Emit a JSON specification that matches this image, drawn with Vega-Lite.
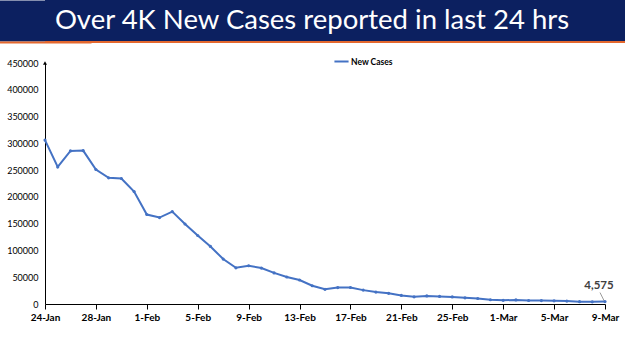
{
  "$schema": "https://vega.github.io/schema/vega-lite/v6.json",
  "padding": 0,
  "autosize": {"type": "pad"},
  "background": "white",
  "config": {"font": "Lato"},
  "spacing": 0,
  "resolve": {"legend": {"color": "independent"}, "scale": {"color": "independent"}},
  "vconcat": [
    {
      "width": 584,
      "height": 41,
      "view": {"fill": "#0c2060", "stroke": null},
      "data": {"values": [{"title": "Over 4K New Cases reported in last 24 hrs"}]},
      "mark": {"type": "text", "color": "white", "fontSize": 27.5, "font": "Lato", "baseline": "middle", "align": "center", "dx": -25},
      "encoding": {
        "text": {"field": "title"},
        "y": {
          "datum": 0.5,
          "type": "quantitative",
          "scale": {"domain": [0, 1]},
          "axis": {"domainWidth": 92, "domainColor": "#0c2060", "domainCap": "butt", "labels": false, "ticks": false, "grid": false, "title": null}
        }
      }
    },
    {
      "width": 584,
      "height": 2,
      "view": {"fill": "#e4682e", "stroke": null},
      "data": {"values": [{"t": "band"}]},
      "mark": {"type": "rule", "color": "#e4682e", "strokeWidth": 2},
      "encoding": {
        "y": {
          "datum": 0.5,
          "type": "quantitative",
          "scale": {"domain": [0, 1]},
          "axis": {"domainWidth": 92, "domainColor": "#e4682e", "domainCap": "butt", "labels": false, "ticks": false, "grid": false, "title": null}
        }
      }
    },
    {
      "width": 560,
      "height": 241,
      "view": {"stroke": null},
      "data": {"values": [
        {"date": "2022-01-24", "cases": 306064},
        {"date": "2022-01-25", "cases": 255874},
        {"date": "2022-01-26", "cases": 285914},
        {"date": "2022-01-27", "cases": 286384},
        {"date": "2022-01-28", "cases": 251209},
        {"date": "2022-01-29", "cases": 235532},
        {"date": "2022-01-30", "cases": 234281},
        {"date": "2022-01-31", "cases": 209918},
        {"date": "2022-02-01", "cases": 167059},
        {"date": "2022-02-02", "cases": 161386},
        {"date": "2022-02-03", "cases": 172433},
        {"date": "2022-02-04", "cases": 149394},
        {"date": "2022-02-05", "cases": 127952},
        {"date": "2022-02-06", "cases": 107474},
        {"date": "2022-02-07", "cases": 83876},
        {"date": "2022-02-08", "cases": 67597},
        {"date": "2022-02-09", "cases": 71365},
        {"date": "2022-02-10", "cases": 67084},
        {"date": "2022-02-11", "cases": 58077},
        {"date": "2022-02-12", "cases": 50407},
        {"date": "2022-02-13", "cases": 44877},
        {"date": "2022-02-14", "cases": 34113},
        {"date": "2022-02-15", "cases": 27409},
        {"date": "2022-02-16", "cases": 30615},
        {"date": "2022-02-17", "cases": 30757},
        {"date": "2022-02-18", "cases": 25920},
        {"date": "2022-02-19", "cases": 22270},
        {"date": "2022-02-20", "cases": 19968},
        {"date": "2022-02-21", "cases": 16051},
        {"date": "2022-02-22", "cases": 13405},
        {"date": "2022-02-23", "cases": 15102},
        {"date": "2022-02-24", "cases": 14148},
        {"date": "2022-02-25", "cases": 13166},
        {"date": "2022-02-26", "cases": 11499},
        {"date": "2022-02-27", "cases": 10273},
        {"date": "2022-02-28", "cases": 8013},
        {"date": "2022-03-01", "cases": 6915},
        {"date": "2022-03-02", "cases": 7554},
        {"date": "2022-03-03", "cases": 6561},
        {"date": "2022-03-04", "cases": 6396},
        {"date": "2022-03-05", "cases": 5921},
        {"date": "2022-03-06", "cases": 5476},
        {"date": "2022-03-07", "cases": 4362},
        {"date": "2022-03-08", "cases": 3993},
        {"date": "2022-03-09", "cases": 4575}
      ]},
      "encoding": {
        "x": {
          "field": "date",
          "type": "temporal",
          "scale": {"type": "utc", "domain": [1642982400000, 1646784000000]},
          "axis": {
            "values": [1642982400000, 1643328000000, 1643673600000, 1644019200000, 1644364800000, 1644710400000, 1645056000000, 1645401600000, 1645747200000, 1646092800000, 1646438400000, 1646784000000],
            "labelExpr": "utcFormat(datum.value, '%-d-%b')",
            "labelFontSize": 10,
            "labelFontWeight": "bold",
            "labelColor": "#000",
            "tickColor": "#000",
            "domainColor": "#000",
            "tickSize": 5,
            "labelPadding": 3,
            "grid": false,
            "title": null,
            "labelFlush": false,
            "labelOverlap": false
          }
        },
        "y": {
          "field": "cases",
          "type": "quantitative",
          "scale": {"domain": [0, 450000], "nice": false},
          "axis": {
            "values": [0, 50000, 100000, 150000, 200000, 250000, 300000, 350000, 400000, 450000],
            "format": "d",
            "labelFontSize": 9,
            "labelColor": "#000",
            "ticks": false,
            "domainColor": "#000",
            "grid": false,
            "title": null,
            "minExtent": 45,
            "labelPadding": 7
          }
        }
      },
      "layer": [
        {
          "mark": {"type": "line", "strokeWidth": 2},
          "encoding": {
            "color": {
              "datum": "New Cases",
              "scale": {"range": ["#4472c4"]},
              "legend": {
                "orient": "none",
                "legendX": 278,
                "legendY": -20,
                "title": null,
                "padding": 10,
                "symbolType": "stroke",
                "symbolSize": 200,
                "symbolStrokeWidth": 2,
                "labelFontSize": 8.5,
                "labelFontWeight": "bold",
                "labelColor": "#000",
                "labelOffset": 1
              }
            }
          }
        },
        {
          "mark": {"type": "point", "filled": true, "size": 10, "color": "#4472c4", "opacity": 1}
        },
        {
          "transform": [{"filter": "datum.cases == 4575"}],
          "mark": {"type": "rule", "color": "#808080", "strokeWidth": 0.8, "xOffset": -1, "yOffset": -1, "x2Offset": -5, "y2Offset": -9},
          "encoding": {"x2": {"field": "date"}, "y2": {"field": "cases"}}
        },
        {
          "transform": [{"filter": "datum.cases == 4575"}],
          "mark": {"type": "text", "dx": -6, "dy": -16, "fontSize": 11.5, "fontWeight": "bold", "color": "#404040"},
          "encoding": {"text": {"field": "cases", "format": ","}}
        },
        {
          "data": {"values": [{"date": "2022-01-24", "cases": 450000}]},
          "mark": {"type": "point", "shape": "triangle-up", "filled": true, "size": 16, "color": "#000", "opacity": 1}
        }
      ]
    }
  ]
}
